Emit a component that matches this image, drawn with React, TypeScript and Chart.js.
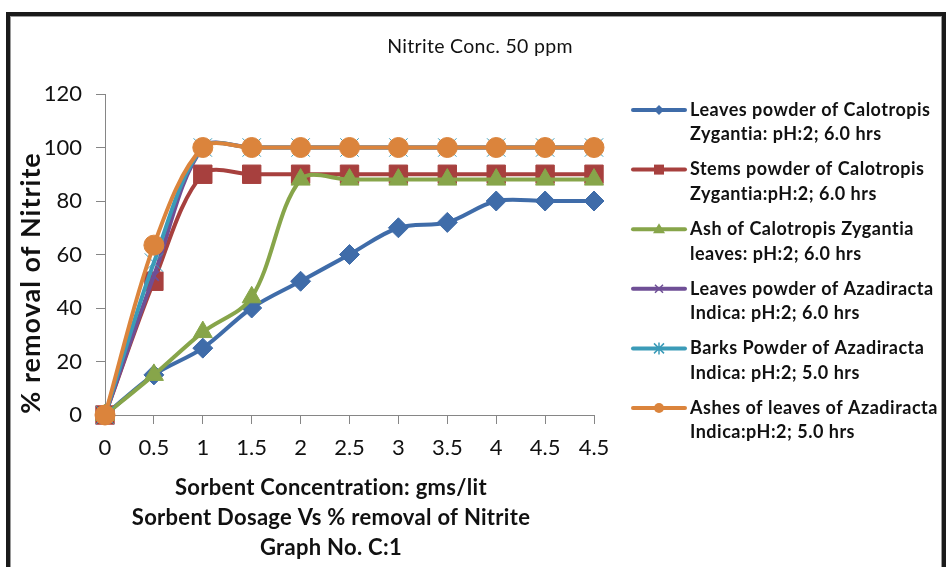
import React, { useEffect, useRef } from 'react';
import { Chart, registerables } from 'chart.js';

Chart.register(...registerables);

// ---------- data ----------
const categories = ['0', '0.5', '1', '1.5', '2', '2.5', '3', '3.5', '4', '4.5', '4.5'];
const leavesCalotropis = [0, 15, 25, 40, 50, 60, 70, 72, 80, 80, 80];
const stemsCalotropis = [0, 50, 90, 90, 90, 90, 90, 90, 90, 90, 90];
const ashCalotropis = [0, 15, 31, 44, 88, 88, 88, 88, 88, 88, 88];
const leavesAzadiracta = [0, 52, 100, 100, 100, 100, 100, 100, 100, 100, 100];
const barksAzadiracta = [0, 57, 100, 100, 100, 100, 100, 100, 100, 100, 100];
const ashesAzadiracta = [0, 63.5, 100, 100, 100, 100, 100, 100, 100, 100, 100];
const yTicks = [0, 20, 40, 60, 80, 100, 120];

const seriesLines = [
  ['Leaves powder of Calotropis', 'Zygantia: pH:2; 6.0 hrs'],
  ['Stems powder of Calotropis', 'Zygantia:pH:2; 6.0 hrs'],
  ['Ash of Calotropis Zygantia', 'leaves: pH:2; 6.0 hrs'],
  ['Leaves powder of Azadiracta', 'Indica: pH:2; 6.0 hrs'],
  ['Barks Powder of Azadiracta', 'Indica: pH:2; 5.0 hrs'],
  ['Ashes of leaves of Azadiracta', 'Indica:pH:2; 5.0 hrs'],
];
const chartTitle = 'Nitrite Conc. 50 ppm';
const yTitle = '% removal of Nitrite';
const xTitleLines = [
  'Sorbent Concentration: gms/lit',
  'Sorbent Dosage Vs % removal of Nitrite',
  'Graph No. C:1',
];

const colors = ['#3f6ca9', '#a7403e', '#87a54a', '#6f4f96', '#3b9bb8', '#db843c'];
const legendMarkers = ['diamond', 'square', 'triangle', 'x', 'star', 'circle'];

function drawLegendMarker(ctx: CanvasRenderingContext2D, kind: string, x: number, y: number, color: string) {
  ctx.save();
  ctx.fillStyle = color;
  ctx.strokeStyle = color;
  ctx.lineWidth = 1.5;
  ctx.beginPath();
  if (kind === 'diamond') {
    const r = 5;
    ctx.moveTo(x, y - r); ctx.lineTo(x + r, y); ctx.lineTo(x, y + r); ctx.lineTo(x - r, y); ctx.closePath(); ctx.fill();
  } else if (kind === 'square') {
    ctx.rect(x - 5, y - 5, 10, 10); ctx.fill();
  } else if (kind === 'triangle') {
    ctx.moveTo(x, y - 6); ctx.lineTo(x + 6, y + 4); ctx.lineTo(x - 6, y + 4); ctx.closePath(); ctx.fill();
  } else if (kind === 'x') {
    const r = 4;
    ctx.moveTo(x - r, y - r); ctx.lineTo(x + r, y + r); ctx.moveTo(x + r, y - r); ctx.lineTo(x - r, y + r); ctx.stroke();
  } else if (kind === 'star') {
    const r = 5;
    ctx.moveTo(x - r, y - r); ctx.lineTo(x + r, y + r); ctx.moveTo(x + r, y - r); ctx.lineTo(x - r, y + r);
    ctx.moveTo(x, y - r - 1); ctx.lineTo(x, y + r + 1); ctx.stroke();
  } else {
    ctx.arc(x, y, 5, 0, Math.PI * 2); ctx.fill();
  }
  ctx.restore();
}

const decorPlugin = {
  id: 'decor',
  afterDraw(chart: any) {
    const ctx: any = chart.ctx;
    ctx.save();
    ctx.fillStyle = '#111';
    ctx.textAlign = 'center';
    ctx.textBaseline = 'middle';
    ctx.letterSpacing = '0.3px';
    ctx.font = '19.5px Lato';
    ctx.fillText(chartTitle, 480, 47);

    ctx.font = 'bold 22px Lato';
    xTitleLines.forEach((t, i) => ctx.fillText(t, 331, 488 + i * 30));

    ctx.save();
    ctx.translate(31, 283);
    ctx.rotate(-Math.PI / 2);
    ctx.letterSpacing = '1px';
    ctx.font = 'bold 27px Lato';
    ctx.fillText(yTitle, 0, 0);
    ctx.restore();

    // legend
    ctx.textAlign = 'left';
    ctx.letterSpacing = '0.5px';
    ctx.font = 'bold 18px Lato';
    seriesLines.forEach((lines, i) => {
      const y = 110 + i * 59.6;
      ctx.save();
      ctx.strokeStyle = colors[i];
      ctx.lineWidth = 4;
      ctx.lineCap = 'round';
      ctx.beginPath();
      ctx.moveTo(633, y);
      ctx.lineTo(685, y);
      ctx.stroke();
      ctx.restore();
      drawLegendMarker(ctx, legendMarkers[i], 659, y, colors[i]);
      ctx.fillStyle = '#111';
      ctx.fillText(lines[0], 690, y);
      ctx.fillText(lines[1], 690, y + 24.5);
    });
    ctx.restore();
  },
};

export default function App() {
  const canvasRef = useRef<HTMLCanvasElement | null>(null);

  useEffect(() => {
    document.body.style.margin = '0';
    const canvas = canvasRef.current;
    if (!canvas) return;
    const series = [leavesCalotropis, stemsCalotropis, ashCalotropis, leavesAzadiracta, barksAzadiracta, ashesAzadiracta];
    const styles = [
      { pointStyle: 'rectRot', pointRadius: 10, pointBorderWidth: 1 },
      { pointStyle: 'rect', pointRadius: 13, pointBorderWidth: 1 },
      { pointStyle: 'triangle', pointRadius: 11, pointBorderWidth: 1 },
      { pointStyle: 'crossRot', pointRadius: 7, pointBorderWidth: 2 },
      { pointStyle: 'crossRot', pointRadius: 13, pointBorderWidth: 1 },
      { pointStyle: 'circle', pointRadius: 10, pointBorderWidth: 1 },
    ];
    const chart = new Chart(canvas, {
      type: 'line',
      data: {
        labels: categories,
        datasets: series.map((d, i) => ({
          label: seriesLines[i].join(' '),
          data: d,
          borderColor: colors[i],
          backgroundColor: colors[i],
          pointBackgroundColor: colors[i],
          pointBorderColor: colors[i],
          borderWidth: 4,
          tension: 0.33,
          clip: false as any,
          order: 6 - i,
          ...styles[i],
        })) as any,
      },
      options: {
        animation: false,
        responsive: false,
        maintainAspectRatio: false,
        layout: { padding: { top: 94, right: 354, left: 0, bottom: 0 } },
        plugins: {
          legend: { display: false },
          title: { display: false },
          tooltip: { enabled: false },
        },
        scales: {
          x: {
            offset: false,
            grid: { display: true, drawOnChartArea: false, drawTicks: true, tickLength: 9, color: '#868686' },
            border: { color: '#868686', width: 1 },
            ticks: { color: '#111', font: { family: 'Lato', size: 22 }, padding: 11, maxRotation: 0, autoSkip: false },
            afterFit: (s: any) => { s.height = 152; },
          },
          y: {
            min: 0,
            max: 120,
            afterBuildTicks: (s: any) => { s.ticks = yTicks.map((v) => ({ value: v })); },
            grid: { display: true, drawOnChartArea: false, drawTicks: true, tickLength: 9, color: '#868686' },
            border: { color: '#868686', width: 1 },
            ticks: { color: '#111', font: { family: 'Lato', size: 22 }, padding: 14 },
            afterFit: (s: any) => { s.width = 105; },
          },
        },
      },
      plugins: [decorPlugin],
    });
    return () => chart.destroy();
  }, []);

  return (
    <div style={{ position: 'relative', width: 948, height: 567, overflow: 'hidden', background: '#fff' }}>
      <canvas ref={canvasRef} width={948} height={567} style={{ position: 'absolute', left: 0, top: 0 }} />
      <div
        style={{
          position: 'absolute',
          left: 6,
          top: 12,
          width: 932,
          height: 600,
          border: '4px solid #1a1a1a',
          boxShadow: 'inset 0 0 0 1px #9a9a9a',
          pointerEvents: 'none',
        }}
      />
    </div>
  );
}
